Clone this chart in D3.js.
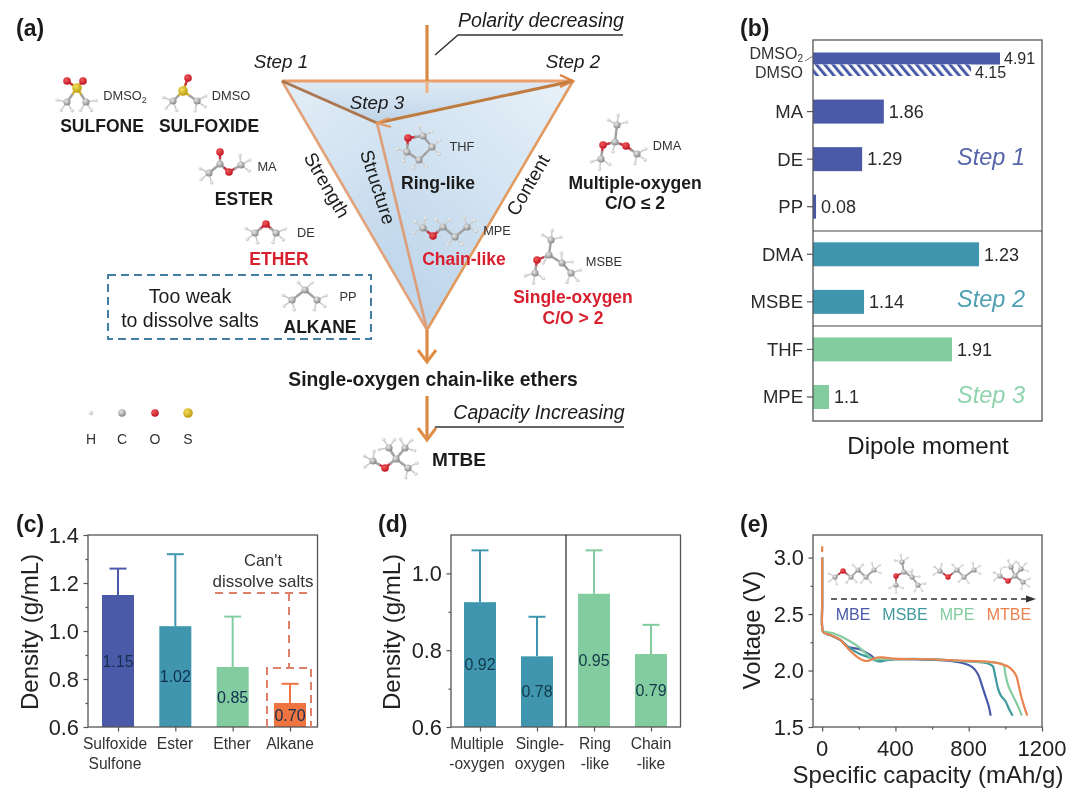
<!DOCTYPE html>
<html><head><meta charset="utf-8">
<style>html,body{margin:0;padding:0;background:#fff}svg{display:block;filter:blur(0.4px)}text{font-family:"Liberation Sans",Arial,sans-serif;fill:#1b1b1b}</style>
<script src="https://cdn.jsdelivr.net/npm/d3@7/dist/d3.min.js"></script>
</head><body><svg id="c" width="1080" height="797"></svg>
<script>
// ---------- data ----------
const BLUE="#4a5aa8",TEAL="#3f96ae",GREEN="#83cc9f",ORANGE="#ef7440";
const dipoleRows=["DMSOs","MA","DE","PP","DMA","MSBE","THF","MPE"];
const dipoleLabels=["1.86","1.29","0.08","1.23","1.14","1.91","1.1"];
// bar lengths as drawn in the figure, read on the Step 1 scale (the printed labels are not proportional across steps)
const dipoleLengths=[1.86,1.29,0.08,4.36,1.34,3.65,0.42];
const dipoleColors=[BLUE,BLUE,BLUE,TEAL,TEAL,GREEN,GREEN];
const dmso2Value=4.91,dmsoValue=4.15;
const densityCCats=["Sulfoxide","Ester","Ether","Alkane"];
const densityCVals=[1.15,1.02,0.85,0.70];
const densityCErr=[1.26,1.32,1.06,0.78];
const densityCLabels=["1.15","1.02","0.85","0.70"];
const densityCColors=[BLUE,TEAL,GREEN,ORANGE];
const densityDCats=["Multiple","Single","Ring","Chain"];
const densityDVals=[0.925,0.784,0.947,0.79];
const densityDErr=[1.06,0.887,1.06,0.866];
const densityDLabels=["0.92","0.78","0.95","0.79"];
const densityDColors=[TEAL,TEAL,GREEN,GREEN];
const curveMBE=[[0,3.0],[0,2.6],[0,2.38],[6,2.34],[50,2.31],[100,2.27],[140,2.21],[200,2.19],[260,2.14],[300,2.09],[340,2.09],[400,2.1],[600,2.095],[700,2.085],[780,2.06],[820,2.03],[850,1.97],[870,1.88],[890,1.78],[910,1.68],[920,1.6]];
const curveMSBE=[[0,3.0],[0,2.6],[0,2.38],[6,2.34],[50,2.31],[100,2.27],[150,2.2],[200,2.15],[250,2.12],[290,2.09],[320,2.08],[350,2.095],[400,2.1],[600,2.1],[800,2.08],[900,2.065],[930,2.04],[945,1.95],[960,1.84],[975,1.78],[1000,1.73],[1020,1.66],[1040,1.6]];
const curveMPE=[[0,3.0],[0,2.6],[0,2.38],[6,2.35],[60,2.33],[130,2.28],[190,2.22],[240,2.15],[280,2.1],[320,2.1],[400,2.1],[600,2.1],[800,2.08],[950,2.07],[990,2.05],[1000,1.97],[1015,1.87],[1040,1.78],[1070,1.68],[1090,1.6]];
const curveMTBE=[[0,3.0],[0,2.6],[0,2.38],[6,2.34],[50,2.31],[100,2.27],[150,2.18],[200,2.11],[235,2.085],[260,2.09],[300,2.115],[340,2.115],[400,2.105],[600,2.1],[800,2.085],[900,2.08],[960,2.065],[1010,2.04],[1040,2.0],[1060,1.95],[1075,1.85],[1090,1.75],[1105,1.67],[1120,1.6]];
const curveSpikeMTBE=[[0,3.1],[0,3.05]];
const curveNames=["MBE","MSBE","MPE","MTBE"];
const curveColors=[BLUE,"#3f9a9e",GREEN,"#ea8350"];
// ball and stick sketches: [element,x,y,...bonded-to indexes]; K is a carbonyl carbon, drawn without hydrogens
const molecules=[
 [["S",77,88],["O",67,81,0],["O",83,81,0],["C",67,102,0],["C",86,102,0]],
 [["S",183,91],["O",188,78,0],["C",173,101,0],["C",197,101,0]],
 [["K",220,164],["O",220,152,0],["O",229,172,0],["C",241,165,2],["C",209,173,0]],
 [["O",266,224],["C",255,233,0],["C",276,233,0]],
 [["C",305,290],["C",292,300,0],["C",317,300,0]],
 [["O",408,138],["C",423,136,0],["C",432,147,1],["C",419,160,2],["C",407,152,3,0]],
 [["C",423,228],["O",433,236,0],["C",443,227,1],["C",455,237,2],["C",467,227,3]],
 [["C",617,125],["C",615,142,0],["O",603,145,1],["O",626,146,1],["C",601,159,2],["C",637,154,3]],
 [["C",551,240],["C",549,255,0],["O",537,260,1],["C",535,273,2],["C",562,263,1],["C",571,273,4]],
 [["O",385,468],["C",373,461,0],["C",396,459,0],["C",389,448,2],["C",405,448,2],["C",408,468,2]]
];
const tinyMolecules=[
 [["C",835,577],["O",843,571,0],["C",851,577,1],["C",858,570,2],["C",866,577,3],["C",874,570,4]],
 [["C",902,562],["C",904,572,0],["O",896,576,1],["C",896,585,2],["C",912,577,1],["C",918,585,4]],
 [["C",940,571],["O",948,577,0],["C",957,570,1],["C",964,577,2],["C",974,570,3]],
 [["C",1000,576],["O",1008,581,0],["C",1015,576,1],["C",1011,567,2],["C",1021,569,2],["C",1023,582,2]]
];
const legendAtoms=["H","C","O","S"];

// ---------- helpers ----------
const svg=d3.select("#c");
const defs=svg.append("defs");
function T(x,y,s,size,o={}){
  const t=svg.append("text").attr("x",x).attr("y",y).attr("dy","0.35em").text(s)
   .attr("font-size",size).attr("text-anchor",o.anchor||"middle");
  if(o.bold)t.attr("font-weight","bold");
  if(o.italic)t.attr("font-style","italic");
  if(o.fill)t.style("fill",o.fill);
  if(o.rot!==undefined)t.attr("transform",`rotate(${o.rot} ${x} ${y})`);
  return t;
}
function L(pts,color,w,o={}){
  const p=svg.append("path").attr("d",d3.line()(pts)).attr("fill","none").attr("stroke",color).attr("stroke-width",w);
  if(o.dash)p.attr("stroke-dasharray",o.dash);
  return p;
}
function radial(id,c0,c1){
  const g=defs.append("radialGradient").attr("id",id).attr("cx","38%").attr("cy","35%").attr("r","70%");
  g.append("stop").attr("offset","0").attr("stop-color",c0);
  g.append("stop").attr("offset","1").attr("stop-color",c1);
}
radial("aC","#e8e8e8","#808080");radial("aO","#f05a5a","#bd1020");radial("aS","#f6e05a","#b8960c");radial("aH","#fbfbfb","#b8b8b8");
const bondCol={C:"#a2a2a2",K:"#a2a2a2",O:"#c9333e",S:"#d2b42a",H:"#cdcdcd"};
const atomFill={C:"url(#aC)",K:"url(#aC)",O:"url(#aO)",S:"url(#aS)",H:"url(#aH)"};
function drawMol(atoms,k){
  const g=svg.append("g");
  const nb=atoms.map(()=>[]);
  atoms.forEach((a,i)=>a.slice(3).forEach(j=>{nb[i].push(j);nb[j].push(i);}));
  const seg=(x1,y1,x2,y2,c,w)=>g.append("line").attr("x1",x1).attr("y1",y1).attr("x2",x2).attr("y2",y2).attr("stroke",c).attr("stroke-width",w).attr("stroke-linecap","round");
  atoms.forEach((a,i)=>{
    if(a[0]!=="C")return;
    const dirs=nb[i].map(j=>Math.atan2(atoms[j][2]-a[2],atoms[j][1]-a[1]));
    const opp=Math.atan2(-d3.sum(dirs,Math.sin),-d3.sum(dirs,Math.cos));
    const n=4-nb[i].length;
    const spread=n===3?[-1.15,0,1.15]:n===2?[-0.75,0.75]:n===1?[0]:[];
    spread.forEach(da=>{
      const hx=a[1]+Math.cos(opp+da)*10*k,hy=a[2]+Math.sin(opp+da)*10*k;
      seg(a[1],a[2],hx,hy,bondCol.H,1.6*k);
      g.append("circle").attr("cx",hx).attr("cy",hy).attr("r",1.8*k).attr("fill",atomFill.H);
    });
  });
  atoms.forEach((a,i)=>nb[i].forEach(j=>{
    if(j<i)return;const b=atoms[j];const mx=(a[1]+b[1])/2,my=(a[2]+b[2])/2;
    seg(a[1],a[2],mx,my,bondCol[a[0]],2.4*k);seg(mx,my,b[1],b[2],bondCol[b[0]],2.4*k);
  }));
  atoms.forEach(a=>g.append("circle").attr("cx",a[1]).attr("cy",a[2]).attr("r",(a[0]==="S"?4.8:a[0]==="O"?3.8:3.6)*k).attr("fill",atomFill[a[0]]));
}
function axisStyle(g){g.selectAll("path,line").attr("stroke","#555").attr("stroke-width",1.2);g.selectAll("text").remove();}

// ---------- panel labels ----------
[["(a)",16,28],["(b)",740,28],["(c)",16,524],["(d)",378,524],["(e)",740,524]].forEach(d=>T(d[1],d[2],d[0],23,{bold:true,anchor:"start"}));

// ---------- panel a ----------
const A=[282,81],B=[573,81],Cc=[427,330],I=[377,123];
function lin(id,x1,y1,x2,y2,c0,c1){
  const g=defs.append("linearGradient").attr("id",id).attr("gradientUnits","userSpaceOnUse").attr("x1",x1).attr("y1",y1).attr("x2",x2).attr("y2",y2);
  g.append("stop").attr("offset","0").attr("stop-color",c0);g.append("stop").attr("offset","1").attr("stop-color",c1);
}
lin("gTop",400,81,400,123,"#dfebf6","#bfd4e8");
lin("gLeft",290,90,400,250,"#e2edf6","#c2d8ec");
lin("gRight",560,90,400,280,"#e6f0f8","#bfd6eb");
[[A,B,I,"gTop"],[A,I,Cc,"gLeft"],[B,I,Cc,"gRight"]].forEach(t=>svg.append("path").attr("d",d3.line()([t[0],t[1],t[2]])+"Z").attr("fill",`url(#${t[3]})`));
L([A,Cc],"#e2a27a",2.6);L([B,Cc],"#e29a5e",2.6);L([I,Cc],"#dc9e78",2.6);
L([A,B],"#ea9f6d",3.2);L([A,I],"#ab7650",3);L([B,I],"#bf7c3e",3);
L([[560,75],[573,81],[560,87]],"#d9823f",2.2);
L([[389,118],[377,123],[391,127]],"#e09a62",2.2);
L([[427,25],[427,81]],"#d98a45",3.2);L([[427,81],[427,93]],"#eab488",3.2);
L([[427,330],[427,362]],"#dc8a45",3.2);L([[418,350],[427,362],[436,350]],"#e08d48",3);
L([[427,396],[427,440]],"#d98a45",3.2);L([[418,428],[427,440],[436,428]],"#e08d48",3);
L([[435,55],[458,35],[623,35]],"#333",1.5);
L([[435,427],[624,427]],"#333",1.6);
T(541,20,"Polarity decreasing",19.5,{italic:true});
T(539,412,"Capacity Increasing",19.5,{italic:true});
T(281,61,"Step 1",18.8,{italic:true});T(573,61,"Step 2",18.8,{italic:true});T(377,102,"Step 3",18.8,{italic:true});
T(327,185,"Strength",19,{rot:60});T(378,187,"Structure",19,{rot:72});T(528,185,"Content",19,{rot:-60});
molecules.forEach(m=>drawMol(m,1));
const RED="#d8202f";
[[231,96,"DMSO"],[267,167,"MA"],[306,233,"DE"],[462,147,"THF"],[497,231,"MPE"],[667,146,"DMA"],[604,262,"MSBE"],[348,297,"PP"]].forEach(d=>T(d[0],d[1],d[2],12.8,{fill:"#333"}));
T(125,96,"DMSO",12.8,{fill:"#333"}).append("tspan").attr("dy","0.3em").attr("font-size",9).text("2");
[[102,126,"SULFONE"],[209,126,"SULFOXIDE"],[244,199,"ESTER"],[320,327,"ALKANE"],[438,183,"Ring-like"],[635,183,"Multiple-oxygen"],[635,203,"C/O ≤ 2"]].forEach(d=>T(d[0],d[1],d[2],17.5,{bold:true}));
[[279,259,"ETHER"],[464,259,"Chain-like"],[573,297,"Single-oxygen"],[573,318,"C/O > 2"]].forEach(d=>T(d[0],d[1],d[2],17.5,{bold:true,fill:RED}));
svg.append("rect").attr("x",108).attr("y",275).attr("width",263).attr("height",64).attr("fill","none").attr("stroke","#437ea2").attr("stroke-width",2).attr("stroke-dasharray","8 5");
T(190,296,"Too weak",19.5);T(190,320,"to dissolve salts",19.5);
T(433,379,"Single-oxygen chain-like ethers",19.3,{bold:true});
T(459,459,"MTBE",19,{bold:true});
legendAtoms.forEach((e,i)=>{
  const x=[91,122,155,188][i];
  svg.append("circle").attr("cx",x).attr("cy",413).attr("r",{H:2.2,C:3.8,O:3.8,S:4.8}[e]).attr("fill",atomFill[e]);
  T(x,439,e,14,{fill:"#333"});
});

// ---------- panel b ----------
const bx=d3.scaleLinear().domain([0,dmso2Value]).range([813,1000]);
const by=d3.scalePoint().domain(dipoleRows).range([64,397]);
const hatch=defs.append("pattern").attr("id","hatch").attr("patternUnits","userSpaceOnUse").attr("width",6.4).attr("height",6.4).attr("patternTransform","rotate(-40)");
hatch.append("rect").attr("width",6.4).attr("height",6.4).attr("fill","#fff");
hatch.append("rect").attr("width",3).attr("height",6.4).attr("fill",BLUE);
svg.append("rect").attr("x",bx(0)).attr("y",52.5).attr("width",bx(dmso2Value)-bx(0)).attr("height",12).attr("fill",BLUE);
svg.append("rect").attr("x",bx(0)).attr("y",64.5).attr("width",bx(dmsoValue)-bx(0)).attr("height",11.5).attr("fill","url(#hatch)");
svg.selectAll(".bb").data(dipoleRows.slice(1)).join("rect").attr("x",bx(0)).attr("y",d=>by(d)-12).attr("height",24)
  .attr("width",(d,i)=>bx(dipoleLengths[i])-bx(0)).attr("fill",(d,i)=>dipoleColors[i]);
svg.append("rect").attr("x",813).attr("y",40).attr("width",229).attr("height",381).attr("fill","none").attr("stroke","#555").attr("stroke-width",1.3);
L([[813,231],[1042,231]],"#444",1.2);L([[813,326],[1042,326]],"#444",1.2);
dipoleRows.slice(1).forEach((r,i)=>{
  L([[807,by(r)],[813,by(r)]],"#555",1.2);
  T(803,by(r),r,18.5,{anchor:"end",fill:"#2a2a2a"});
  T(bx(dipoleLengths[i])+5,by(r),dipoleLabels[i],18,{anchor:"start",fill:"#2a2a2a"});
});
T(803,53,"DMSO",16,{anchor:"end",fill:"#333"}).append("tspan").attr("dy","0.3em").attr("font-size",10).text("2");
L([[805,61],[813,56]],"#777",1);
T(803,72,"DMSO",16,{anchor:"end",fill:"#333"});
T(1004,58,"4.91",16,{anchor:"start",fill:"#2a2a2a"});
T(975,72,"4.15",16,{anchor:"start",fill:"#2a2a2a"});
T(991,157,"Step 1",23.5,{italic:true,fill:"#5766ab"});
T(991,299,"Step 2",23.5,{italic:true,fill:"#4f9fb5"});
T(991,395,"Step 3",23.5,{italic:true,fill:"#90d3ae"});
T(928,446,"Dipole moment",24);

// ---------- bar panels ----------
function barPanel(cfg){
  const x=d3.scalePoint().domain(cfg.cats).range(cfg.xr);
  const y=d3.scaleLinear().domain(cfg.yd).range([727,535]);
  const dir=cfg.cats.map((c,i)=>({c,v:cfg.vals[i],e:cfg.err[i],l:cfg.labels[i],col:cfg.colors[i]}));
  const g=svg.append("g");
  g.selectAll("line.err").data(dir).join("line").attr("x1",d=>x(d.c)).attr("x2",d=>x(d.c)).attr("y1",d=>y(d.v)).attr("y2",d=>y(d.e)).attr("stroke",d=>d.col).attr("stroke-width",2);
  g.selectAll("line.cap").data(dir).join("line").attr("x1",d=>x(d.c)-8.5).attr("x2",d=>x(d.c)+8.5).attr("y1",d=>y(d.e)).attr("y2",d=>y(d.e)).attr("stroke",d=>d.col).attr("stroke-width",2);
  g.selectAll("rect").data(dir).join("rect").attr("x",d=>x(d.c)-16).attr("width",32).attr("y",d=>y(d.v)).attr("height",d=>y(cfg.yd[0])-y(d.v)).attr("fill",d=>d.col);
  svg.append("rect").attr("x",cfg.L).attr("y",535).attr("width",229.5).attr("height",192).attr("fill","none").attr("stroke","#555").attr("stroke-width",1.3);
  const left=svg.append("g").attr("transform",`translate(${cfg.L},0)`).call(d3.axisLeft(y).tickValues(cfg.major).tickSize(4.5).tickSizeOuter(0));axisStyle(left);left.select("path").remove();
  const minor=svg.append("g").attr("transform",`translate(${cfg.L},0)`).call(d3.axisLeft(y).tickValues(cfg.minor).tickSize(2.5).tickSizeOuter(0));axisStyle(minor);minor.select("path").remove();
  const bot=svg.append("g").attr("transform","translate(0,727)").call(d3.axisBottom(x).tickSize(4.5).tickSizeOuter(0));axisStyle(bot);bot.select("path").remove();
  cfg.major.forEach(v=>T(cfg.L-9,y(v),d3.format(".1f")(v),21.8,{anchor:"end",fill:"#222"}));
  T(cfg.titleX,632,"Density (g/mL)",24,{rot:-90,fill:"#222"});
  dir.forEach(d=>T(x(d.c),y((d.v+cfg.yd[0])/2),d.l,16,{fill:cfg.labelFill}));
}
barPanel({cats:densityCCats,vals:densityCVals,err:densityCErr,labels:densityCLabels,colors:densityCColors,L:88,xr:[118,290],yd:[0.6,1.4],major:[0.6,0.8,1.0,1.2,1.4],minor:[0.7,0.9,1.1,1.3],titleX:30,labelFill:"#123052"});
barPanel({cats:densityDCats,vals:densityDVals,err:densityDErr,labels:densityDLabels,colors:densityDColors,L:451,xr:[480,651],yd:[0.6,1.1],major:[0.6,0.8,1.0],minor:[0.7,0.9],titleX:392,labelFill:"#123a4a"});
L([[566,535],[566,727]],"#333",1.3);
[[115,"Sulfoxide",744],[175,"Ester",744],[232,"Ether",744],[290,"Alkane",744],[115,"Sulfone",764],
 [477,"Multiple",744],[477,"-oxygen",764],[540,"Single-",744],[540,"oxygen",764],[595,"Ring",744],[595,"-like",764],[651,"Chain",744],[651,"-like",764]]
 .forEach(d=>T(d[0],d[2],d[1],15.6,{fill:"#333"}));
T(263,560,"Can't",16.5,{fill:"#333"});T(263,581,"dissolve salts",17,{fill:"#333"});
const DASH="#e07f6a";
L([[215,593],[312,593]],DASH,2,{dash:"8 6"});L([[289,593],[289,668]],DASH,2,{dash:"8 6"});
L([[267,727],[267,668],[311,668],[311,727]],DASH,2,{dash:"8 5"});

// ---------- panel e ----------
const ex=d3.scaleLinear().domain([-50,1200]).range([813,1042]);
const ey=d3.scaleLinear().domain([1.5,3.2]).range([727,535]);
svg.append("rect").attr("x",813).attr("y",535).attr("width",229).attr("height",192).attr("fill","none").attr("stroke","#555").attr("stroke-width",1.3);
const eb=svg.append("g").attr("transform","translate(0,727)").call(d3.axisBottom(ex).tickValues([0,400,800,1200]).tickSize(4.5).tickSizeOuter(0));axisStyle(eb);eb.select("path").remove();
const eb2=svg.append("g").attr("transform","translate(0,727)").call(d3.axisBottom(ex).tickValues([200,600,1000]).tickSize(2.5).tickSizeOuter(0));axisStyle(eb2);eb2.select("path").remove();
const el=svg.append("g").attr("transform","translate(813,0)").call(d3.axisLeft(ey).tickValues([1.5,2,2.5,3]).tickSize(4.5).tickSizeOuter(0));axisStyle(el);el.select("path").remove();
const el2=svg.append("g").attr("transform","translate(813,0)").call(d3.axisLeft(ey).tickValues([1.75,2.25,2.75]).tickSize(2.5).tickSizeOuter(0));axisStyle(el2);el2.select("path").remove();
[0,400,800,1200].forEach(v=>T(ex(v),748,String(v),22,{fill:"#222"}));
[1.5,2,2.5,3].forEach(v=>T(804,ey(v),d3.format(".1f")(v),21.8,{anchor:"end",fill:"#222"}));
T(752,630,"Voltage (V)",24,{rot:-90,fill:"#222"});
T(928,775,"Specific capacity (mAh/g)",24,{fill:"#222"});
const lineE=d3.line().x(d=>ex(d[0])).y(d=>ey(d[1])).curve(d3.curveCatmullRom.alpha(0.5));
[curveMBE,curveMSBE,curveMPE,curveMTBE].forEach((c,i)=>svg.append("path").attr("d",lineE(c)).attr("fill","none").attr("stroke",curveColors[i]).attr("stroke-width",2.2));
svg.append("path").attr("d",lineE(curveSpikeMTBE)).attr("fill","none").attr("stroke",curveColors[3]).attr("stroke-width",2.2);
tinyMolecules.forEach(m=>drawMol(m,0.72));
L([[831,599],[1028,599]],"#333",1.4,{dash:"6 4"});
svg.append("path").attr("d",d3.line()([[1026,595.5],[1036,599],[1026,602.5]])+"Z").attr("fill","#333");
curveNames.forEach((n,i)=>T([853,905,957,1009][i],614,n,16,{fill:curveColors[i]}));
</script></body></html>
